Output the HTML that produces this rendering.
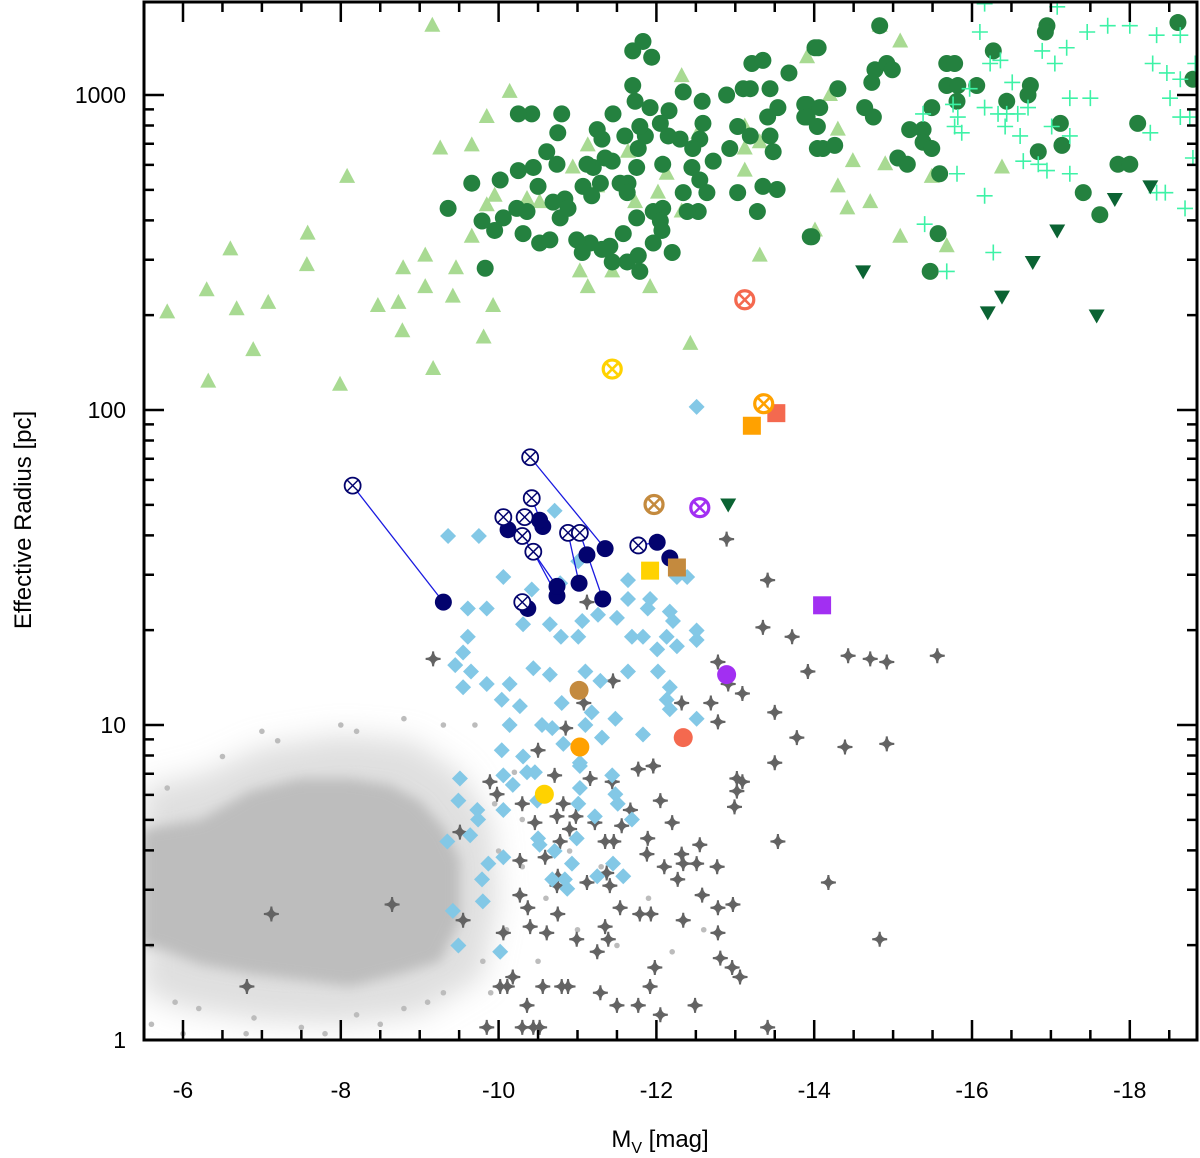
<!DOCTYPE html>
<html><head><meta charset="utf-8"><title>Effective radius vs Mv</title>
<style>
html,body{margin:0;padding:0;background:#fff;}
svg{display:block;font-family:"Liberation Sans",Arial,sans-serif;}
</style></head>
<body>
<svg id="chart" width="1200" height="1158" viewBox="0 0 1200 1158" xmlns="http://www.w3.org/2000/svg">
<g id="plot"></g>
<g id="axes"></g>
<text x="0" y="0" transform="translate(31,520) rotate(-90)" text-anchor="middle" font-size="24" fill="#000">Effective Radius [pc]</text>
<text x="660" y="1147" text-anchor="middle" font-size="24" fill="#000">M<tspan font-size="16" dy="6">V</tspan><tspan dy="-6"> [mag]</tspan></text>
</svg>
<script>
// ---- data (Mv in mag, log10 of effective radius in pc) ----
const xTicks=[-6,-8,-10,-12,-14,-16,-18];
const yTicks=[1,10,100,1000];
const yTickLabels=["1","10","100","1000"];

const grayBlobMv=[-5.48,-6.22,-6.85,-7.48,-8.12,-8.62,-9.00,-9.32,-9.51,-9.51,-9.26,-8.75,-8.12,-7.48,-6.85,-6.22,-5.71,-5.48];
const grayBlobLogR=[0.67,0.70,0.79,0.83,0.83,0.81,0.76,0.67,0.57,0.38,0.25,0.21,0.17,0.19,0.21,0.24,0.29,0.30];
const grayHaloMv=[-5.48,-6.3,-7.0,-8.0,-8.9,-9.5,-9.9,-10.0,-9.8,-9.0,-8.0,-7.0,-6.0,-5.48];
const grayHaloLogR=[0.80,0.85,0.93,0.97,0.95,0.85,0.70,0.45,0.20,0.08,0.05,0.06,0.10,0.15];
const graySparseMv=[-5.6,-6.2,-6.9,-7.5,-8.2,-8.8,-9.3,-9.8,-10.1,-10.3,-10.6,-11.0,-11.5,-12.2,-12.6,-9.7,-9.3,-8.8,-8.2,-7.2,-6.5,-5.8,-5.6,-6.0,-10.0,-10.3,-9.9,-8.5,-7.8,-10.9,-11.3,-11.9,-10.5,-10.2,-9.95,-6.8,-5.9,-7.0,-8.0,-9.1];
const graySparseLogR=[0.05,0.10,0.07,0.04,0.08,0.10,0.15,0.25,0.35,0.55,0.45,0.35,0.30,0.28,0.35,1.00,1.00,1.02,0.98,0.95,0.90,0.80,0.30,0.02,0.60,0.70,0.15,0.05,0.02,0.60,0.55,0.45,0.25,0.85,0.75,0.02,0.12,0.98,1.00,0.12];

const starMv=[-9.89,-9.98,-10.30,-10.71,-11.16,-11.44,-11.77,-11.96,-13.50,-12.05,-10.82,-10.74,-10.98,-11.22,-11.67,-11.56,-9.51,-10.46,-10.90,-12.20,-11.35,-11.46,-11.89,-10.78,-10.59,-10.27,-11.88,-12.32,-12.55,-12.10,-12.34,-12.51,-12.77,-11.37,-11.12,-10.75,-10.74,-11.41,-12.27,-12.58,-10.27,-10.37,-10.75,-11.54,-11.79,-11.93,-12.34,-12.78,-12.97,-9.55,-10.06,-10.40,-10.61,-10.99,-11.35,-11.39,-11.25,-12.78,-13.02,-13.09,-13.02,-12.99,-13.54,-12.81,-12.96,-13.06,-10.18,-10.02,-10.11,-10.56,-10.80,-10.88,-11.98,-11.92,-11.29,-10.36,-11.50,-11.77,-12.49,-12.05,-9.85,-10.30,-10.44,-10.52,-13.41,-12.89,-13.41,-13.35,-13.72,-14.43,-14.71,-14.92,-15.56,-13.92,-12.91,-13.09,-13.50,-13.78,-14.39,-14.92,-14.18,-14.83,-9.17,-7.12,-8.65,-6.81,-11.12,-11.45,-11.08,-10.85,-10.50,-12.32,-12.69,-12.78,-12.78,-11.96];
const starLogR=[0.82,0.78,0.75,0.84,0.83,0.82,0.86,0.87,0.88,0.76,0.75,0.71,0.71,0.69,0.73,0.68,0.66,0.69,0.67,0.69,0.63,0.63,0.64,0.63,0.58,0.57,0.59,0.59,0.62,0.55,0.56,0.56,0.55,0.53,0.50,0.52,0.49,0.49,0.51,0.46,0.46,0.42,0.40,0.42,0.40,0.40,0.38,0.42,0.43,0.38,0.34,0.36,0.34,0.32,0.36,0.32,0.28,0.34,0.83,0.82,0.79,0.74,0.63,0.26,0.23,0.20,0.20,0.17,0.17,0.17,0.17,0.17,0.23,0.17,0.15,0.11,0.11,0.11,0.11,0.08,0.04,0.04,0.04,0.04,0.04,1.59,1.46,1.31,1.28,1.22,1.21,1.20,1.22,1.17,1.13,1.10,1.04,0.96,0.93,0.94,0.50,0.32,1.21,0.40,0.43,0.17,1.39,1.14,1.07,0.99,0.92,1.07,1.07,1.20,1.01,0.87];

const diamondMv=[-9.36,-9.75,-10.06,-9.61,-9.85,-10.31,-10.65,-9.61,-9.55,-9.45,-9.65,-9.55,-9.85,-10.04,-10.14,-10.27,-10.44,-10.65,-10.79,-11.01,-11.06,-11.26,-11.50,-11.64,-11.64,-11.92,-11.89,-11.69,-11.83,-12.01,-12.13,-12.26,-12.51,-12.51,-12.17,-12.21,-12.39,-12.26,-11.01,-10.78,-10.42,-11.10,-11.29,-11.64,-12.02,-12.17,-12.13,-12.17,-12.51,-11.83,-11.48,-11.31,-11.18,-11.10,-10.80,-10.55,-10.68,-10.14,-10.04,-10.31,-10.82,-11.03,-9.51,-10.06,-10.18,-10.36,-10.46,-11.03,-11.03,-11.44,-11.48,-11.51,-11.69,-9.49,-9.73,-9.74,-10.06,-9.64,-9.35,-10.50,-10.52,-10.71,-10.99,-11.01,-11.22,-9.87,-10.06,-9.79,-10.93,-11.45,-11.58,-11.25,-10.68,-10.84,-10.87,-9.80,-9.42,-9.49,-10.02,-10.49,-12.51,-10.71];
const diamondLogR=[1.60,1.60,1.47,1.37,1.37,1.32,1.32,1.28,1.23,1.19,1.17,1.12,1.13,1.08,1.13,1.06,1.18,1.16,1.28,1.28,1.33,1.35,1.34,1.46,1.40,1.40,1.37,1.28,1.28,1.24,1.28,1.25,1.30,1.27,1.36,1.33,1.47,1.47,1.52,1.45,1.43,1.17,1.14,1.17,1.17,1.12,1.08,1.05,1.02,0.97,1.02,0.96,1.04,1.00,1.07,1.00,0.99,1.00,0.92,0.90,0.94,0.88,0.83,0.84,0.81,0.85,0.85,0.87,0.80,0.84,0.78,0.75,0.70,0.76,0.73,0.70,0.73,0.65,0.63,0.64,0.62,0.60,0.64,0.75,0.71,0.56,0.58,0.51,0.56,0.56,0.52,0.52,0.51,0.51,0.48,0.44,0.41,0.30,0.28,0.76,2.01,1.68];

const triMv=[-9.16,-10.14,-9.85,-9.26,-9.66,-9.07,-9.46,-9.07,-9.66,-9.85,-9.95,-10.36,-10.52,-10.94,-11.13,-11.25,-11.64,-11.73,-12.02,-12.13,-12.32,-12.53,-12.32,-13.12,-13.12,-13.31,-13.12,-13.91,-13.31,-14.01,-11.03,-11.44,-11.13,-11.92,-9.42,-5.80,-6.30,-6.60,-6.68,-7.08,-6.32,-6.89,-7.57,-7.58,-7.99,-8.08,-8.47,-8.73,-8.79,-8.78,-9.17,-9.93,-9.81,-12.43,-14.20,-14.30,-14.49,-14.90,-14.30,-14.42,-14.71,-15.09,-15.68,-15.49,-16.38,-15.09,-14.83];
const triLogR=[3.22,3.01,2.93,2.83,2.84,2.49,2.45,2.39,2.55,2.65,2.68,2.67,2.66,2.77,2.84,2.71,2.82,2.66,2.69,2.75,3.06,2.88,2.63,2.90,2.83,2.85,2.76,3.12,2.49,2.57,2.44,2.44,2.39,2.39,2.36,2.31,2.38,2.51,2.32,2.34,2.09,2.19,2.46,2.56,2.08,2.74,2.33,2.34,2.45,2.25,2.13,2.33,2.23,2.21,3.00,2.89,2.79,2.78,2.71,2.64,2.66,2.55,2.52,2.74,2.77,3.17,3.22];

const circMv=[-11.70,-11.83,-11.94,-11.70,-11.73,-11.92,-12.16,-12.05,-12.34,-12.58,-12.89,-13.10,-13.19,-13.21,-13.35,-13.68,-13.44,-13.88,-14.01,-13.41,-13.54,-13.44,-13.48,-12.93,-13.03,-13.19,-12.59,-12.55,-12.30,-12.15,-12.46,-12.72,-12.08,-12.45,-12.55,-12.64,-12.34,-12.53,-12.39,-12.08,-11.96,-11.75,-12.05,-12.07,-11.96,-12.20,-11.77,-11.79,-11.63,-11.44,-11.58,-11.41,-11.31,-11.16,-10.99,-11.06,-11.75,-11.64,-11.54,-11.63,-11.77,-11.86,-11.79,-11.60,-11.45,-11.25,-11.31,-11.35,-11.44,-11.20,-11.12,-11.29,-11.07,-11.18,-10.80,-10.75,-10.42,-10.25,-10.61,-10.74,-10.44,-10.25,-10.50,-10.02,-9.66,-9.36,-9.79,-9.95,-10.06,-10.23,-10.36,-10.69,-10.84,-10.78,-10.88,-10.31,-10.52,-10.65,-9.83,-13.28,-13.03,-13.35,-13.53,-13.97,-14.04,-13.88,-14.83,-14.05,-14.30,-13.91,-14.07,-13.91,-14.04,-14.11,-14.26,-14.64,-14.75,-14.77,-14.92,-14.99,-14.73,-15.68,-15.78,-15.68,-15.82,-16.06,-15.81,-15.49,-15.21,-15.38,-15.38,-15.49,-15.06,-15.18,-15.59,-16.27,-16.95,-16.93,-16.44,-16.74,-16.71,-17.12,-17.14,-16.84,-17.85,-18.00,-18.10,-17.41,-17.62,-18.61,-18.80,-13.95,-15.57,-15.47];
const circLogR=[3.14,3.17,3.12,3.03,2.98,2.96,2.95,2.91,3.01,2.98,3.00,3.02,3.02,3.10,3.11,3.07,3.02,2.97,3.15,2.93,2.96,2.87,2.82,2.83,2.90,2.87,2.91,2.86,2.86,2.87,2.83,2.79,2.78,2.77,2.73,2.69,2.69,2.63,2.63,2.64,2.63,2.61,2.60,2.57,2.53,2.50,2.49,2.44,2.47,2.47,2.56,2.52,2.51,2.53,2.54,2.50,2.77,2.72,2.72,2.69,2.83,2.87,2.90,2.87,2.94,2.89,2.86,2.80,2.79,2.77,2.78,2.72,2.71,2.68,2.94,2.88,2.94,2.94,2.82,2.78,2.77,2.76,2.71,2.73,2.72,2.64,2.60,2.57,2.61,2.64,2.63,2.66,2.67,2.61,2.64,2.56,2.53,2.54,2.45,2.63,2.69,2.71,2.70,2.55,2.83,2.93,3.22,3.15,3.02,2.97,2.96,2.93,2.90,2.83,2.84,2.96,2.93,3.08,3.10,3.08,3.04,3.10,3.10,3.03,3.03,3.03,2.98,2.96,2.89,2.89,2.85,2.83,2.80,2.78,2.75,3.14,3.22,3.20,2.98,3.03,3.00,2.91,2.84,2.82,2.78,2.78,2.91,2.69,2.62,3.23,3.05,2.55,2.56,2.44];

const plusMv=[-16.16,-16.10,-17.08,-16.89,-17.20,-17.05,-17.46,-17.72,-18.00,-18.34,-18.64,-16.36,-16.23,-16.51,-15.97,-15.76,-15.82,-15.78,-15.87,-15.38,-16.16,-16.33,-16.44,-16.58,-16.71,-16.42,-16.61,-17.01,-17.24,-17.24,-17.50,-16.65,-16.84,-16.95,-17.24,-15.81,-16.16,-15.40,-16.27,-15.68,-18.29,-18.47,-18.64,-18.51,-18.64,-18.76,-18.26,-18.34,-18.45,-18.70,-18.80,-18.83];
const plusLogR=[3.29,3.20,3.28,3.14,3.15,3.10,3.20,3.22,3.22,3.19,3.19,3.11,3.10,3.04,3.02,2.97,2.93,2.90,2.88,2.94,2.96,2.94,2.94,2.94,2.96,2.90,2.87,2.90,2.87,2.99,2.99,2.79,2.78,2.76,2.75,2.75,2.68,2.59,2.50,2.44,3.10,3.07,3.05,2.99,2.93,2.93,2.88,2.69,2.69,2.64,2.80,3.10];

const invTriMv=[-14.62,-16.20,-16.38,-16.77,-17.08,-17.58,-17.81,-18.26,-12.91];
const invTriLogR=[2.44,2.31,2.36,2.47,2.57,2.30,2.67,2.71,1.70];

const navyOpenMv=[-8.15,-10.40,-10.42,-10.06,-10.33,-10.44,-10.88,-11.03,-11.77,-10.30,-10.30];
const navyOpenLogR=[1.76,1.85,1.72,1.66,1.66,1.55,1.61,1.61,1.57,1.60,1.39];
const navyFilledMv=[-9.30,-11.35,-10.56,-10.12,-10.52,-10.74,-11.02,-11.32,-12.01,-10.74,-10.37];
const navyFilledLogR=[1.39,1.56,1.63,1.62,1.65,1.41,1.45,1.40,1.58,1.44,1.37];
const navyExtraMv=[-12.17,-11.12];
const navyExtraLogR=[1.53,1.54];

const specialNames=["salmon","yellow","orange","brown","purple"];
const specialColors=["#f4694f","#ffd200","#ffa100","#c48a3e","#a22ff2"];
const specialOpenMv=[-13.12,-11.44,-13.36,-11.97,-12.55];
const specialOpenLogR=[2.35,2.13,2.02,1.70,1.69];
const specialSquareMv=[-13.52,-11.92,-13.21,-12.26,-14.10];
const specialSquareLogR=[1.99,1.49,1.95,1.50,1.38];
const specialDotMv=[-12.34,-10.58,-11.03,-11.02,-12.89];
const specialDotLogR=[0.96,0.78,0.93,1.11,1.16];

// ---- scales ----
const X0=183, XPER=78.9;
const YB=1040, YPER=315;
const L=144,R=1197,T=2,B=1040;
function sx(mv){return X0+(-6-mv)*XPER;}
function sy(lr){return YB-lr*YPER;}
const NS="http://www.w3.org/2000/svg";
const plot=document.getElementById('plot');
const axes=document.getElementById('axes');
function mk(tag,attrs,parent){const e=document.createElementNS(NS,tag);for(const k in attrs)e.setAttribute(k,attrs[k]);(parent||plot).appendChild(e);return e;}

const svgRoot=document.getElementById('chart');
const defs=mk('defs',{},svgRoot);
const cp=mk('clipPath',{id:'clip'},defs);
mk('rect',{x:L,y:T,width:R-L,height:B-T},cp);
const f1=mk('filter',{id:'blur1',x:'-20%',y:'-20%',width:'140%',height:'140%'},defs);
mk('feGaussianBlur',{stdDeviation:6},f1);
const f2=mk('filter',{id:'blur2',x:'-20%',y:'-20%',width:'140%',height:'140%'},defs);
mk('feGaussianBlur',{stdDeviation:14},f2);
plot.setAttribute('clip-path','url(#clip)');

function polyPath(xs,ys){let d='';for(let i=0;i<xs.length;i++){d+=(i?'L':'M')+sx(xs[i]).toFixed(1)+','+sy(ys[i]).toFixed(1);}return d+'Z';}
const halo=mk('path',{d:polyPath(grayHaloMv,grayHaloLogR),fill:'#c4c4c4','fill-opacity':0.55,filter:'url(#blur2)'});


const blob=mk('path',{d:polyPath(grayBlobMv,grayBlobLogR),fill:'#bdbdbd',filter:'url(#blur1)'});


for(let i=0;i<graySparseMv.length;i++){
  const c=mk('circle',{cx:sx(graySparseMv[i]),cy:sy(graySparseLogR[i]),r:2.8,fill:'#bcbcbc'});
  
  
}

// stars
for(let i=0;i<starMv.length;i++){
  const x=sx(starMv[i]),y=sy(starLogR[i]),s=7.5;
  const p=mk('path',{d:`M${x},${y-s}Q${x},${y} ${x+s},${y}Q${x},${y} ${x},${y+s}Q${x},${y} ${x-s},${y}Q${x},${y} ${x},${y-s}Z`,fill:'#636363',stroke:'#636363','stroke-width':2});
  
  
}
// diamonds
for(let i=0;i<diamondMv.length;i++){
  const x=sx(diamondMv[i]),y=sy(diamondLogR[i]),s=8;
  const p=mk('path',{d:`M${x},${y-s}L${x+s},${y}L${x},${y+s}L${x-s},${y}Z`,fill:'#83c8e6'});
  
  
}
// light green triangles
for(let i=0;i<triMv.length;i++){
  const x=sx(triMv[i]),y=sy(triLogR[i]),s=8;
  const p=mk('path',{d:`M${x},${y-s-1}L${x+s},${y+s-2}L${x-s},${y+s-2}Z`,fill:'#a8da92'});
  
  
}
// dark green circles
for(let i=0;i<circMv.length;i++){
  const c=mk('circle',{cx:sx(circMv[i]),cy:sy(circLogR[i]),r:8.5,fill:'#24813f'});
  
  
}
// cyan plus
for(let i=0;i<plusMv.length;i++){
  const x=sx(plusMv[i]),y=sy(plusLogR[i]),s=8;
  const p=mk('path',{d:`M${x-s},${y}H${x+s}M${x},${y-s}V${y+s}`,stroke:'#3df2a6','stroke-width':1.6,fill:'none'});
  
  
}
// inverted triangles
for(let i=0;i<invTriMv.length;i++){
  const x=sx(invTriMv[i]),y=sy(invTriLogR[i]),s=8;
  const p=mk('path',{d:`M${x-s},${y-s+2}L${x+s},${y-s+2}L${x},${y+s}Z`,fill:'#0b6333'});
  
  
}
// navy pairs
for(let i=0;i<navyOpenMv.length;i++){
  const x1=sx(navyOpenMv[i]),y1=sy(navyOpenLogR[i]),x2=sx(navyFilledMv[i]),y2=sy(navyFilledLogR[i]);
  const l=mk('line',{x1:x1,y1:y1,x2:x2,y2:y2,stroke:'#1a1ae0','stroke-width':1.3});
  
  
}
for(let i=0;i<navyFilledMv.length;i++){
  const c=mk('circle',{cx:sx(navyFilledMv[i]),cy:sy(navyFilledLogR[i]),r:8.5,fill:'#03036e'});
  
  
}
for(let i=0;i<navyExtraMv.length;i++){
  const c=mk('circle',{cx:sx(navyExtraMv[i]),cy:sy(navyExtraLogR[i]),r:8.5,fill:'#03036e'});
  
  
}
function openX(x,y,r,col,w,name){
  const g=mk('g',{});
  
  
  mk('circle',{cx:x,cy:y,r:r,fill:'#fff',stroke:col,'stroke-width':w},g);
  const k=r*0.68;
  mk('path',{d:`M${x-k},${y-k}L${x+k},${y+k}M${x+k},${y-k}L${x-k},${y+k}`,stroke:col,'stroke-width':w*0.8},g);
}
for(let i=0;i<navyOpenMv.length;i++){openX(sx(navyOpenMv[i]),sy(navyOpenLogR[i]),8,'#03036e',1.8,'navy-open-circle');}
// special markers
for(let i=0;i<specialNames.length;i++){
  const col=specialColors[i];
  openX(sx(specialOpenMv[i]),sy(specialOpenLogR[i]),9,col,3.2,specialNames[i]+'-open-marker');
  const q=mk('rect',{x:sx(specialSquareMv[i])-9,y:sy(specialSquareLogR[i])-9,width:18,height:18,fill:col});
  
  
  const c=mk('circle',{cx:sx(specialDotMv[i]),cy:sy(specialDotLogR[i]),r:9.5,fill:col});
  
  
}

// ---- axes ----
const frame=mk('rect',{x:L,y:T,width:R-L,height:B-T,fill:'none',stroke:'#000','stroke-width':3},axes);


let tk='';
for(let v=-5.5;v>=-19;v-=0.5){
  const x=sx(v); if(x<L+2||x>R-2)continue;
  const major=Math.abs(v%2)<1e-6; const len=major?20:10;
  tk+=`M${x},${B}V${B-len}M${x},${T}V${T+len}`;
}
for(let dec=0;dec<4;dec++){for(let m=1;m<10;m++){
  const lr=dec+Math.log10(m); const y=sy(lr); if(y<T+2||y>B)continue;
  const len=(m===1)?20:10;
  tk+=`M${L},${y}H${L+len}M${R},${y}H${R-len}`;
}}
const tp=mk('path',{d:tk,stroke:'#000','stroke-width':2.5,fill:'none'},axes);


for(let i=0;i<xTicks.length;i++){
  const t=mk('text',{x:sx(xTicks[i]),y:1098,'text-anchor':'middle','font-size':23,fill:'#000'},axes);
  t.textContent=String(xTicks[i]);
  
  
}
for(let i=0;i<yTicks.length;i++){
  const t=mk('text',{x:126,y:sy(Math.log10(yTicks[i]))+8,'text-anchor':'end','font-size':23,fill:'#000'},axes);
  t.textContent=yTickLabels[i];
  
  
}
</script>
</body></html>
